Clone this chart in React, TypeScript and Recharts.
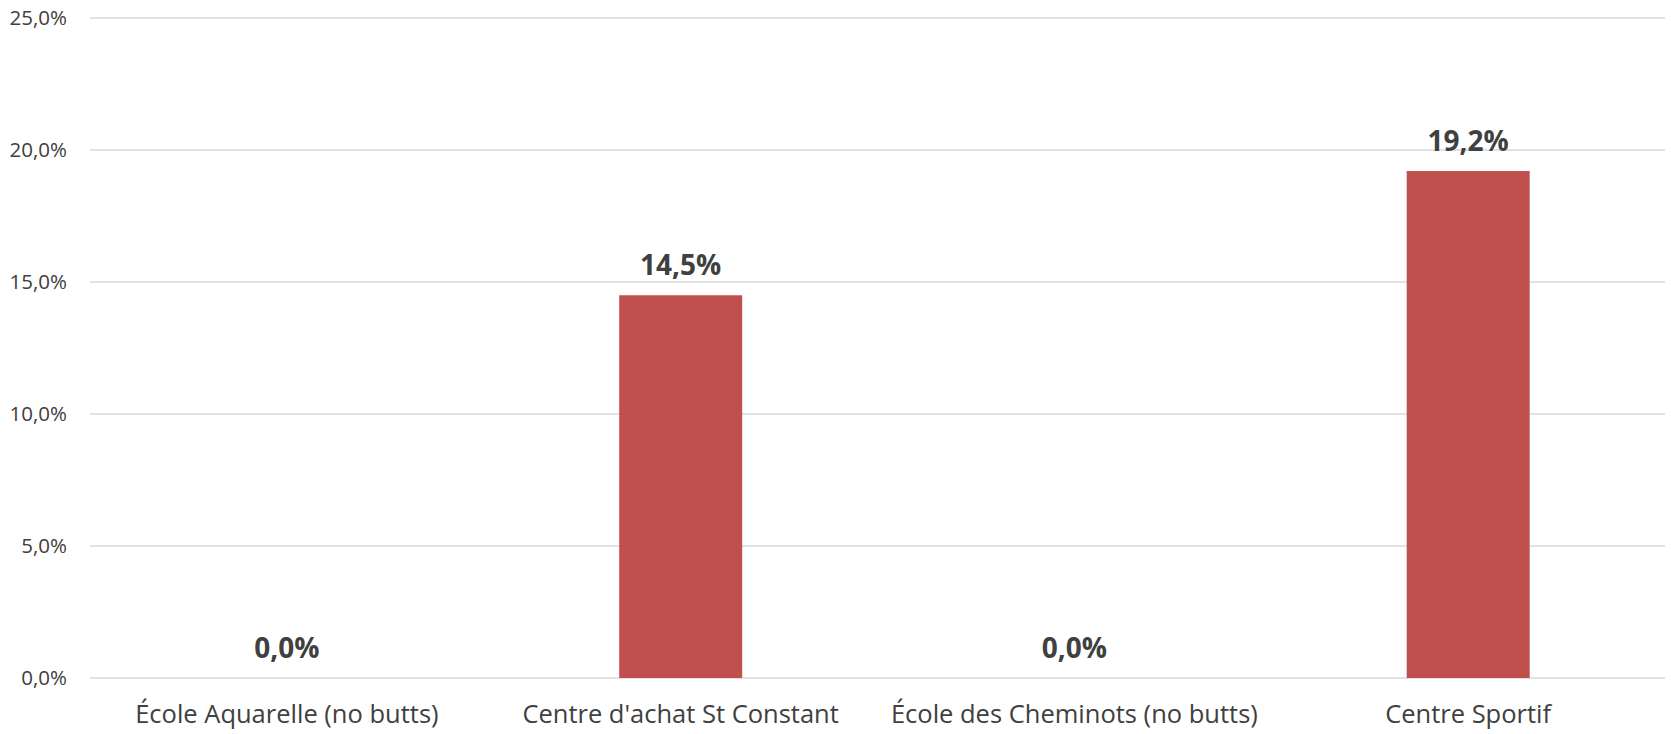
import React from 'react';
import { ComposedChart, Bar, Line, XAxis, YAxis, CartesianGrid, LabelList } from 'recharts';

const categories = [
  'École Aquarelle (no butts)',
  "Centre d'achat St Constant",
  'École des Cheminots (no butts)',
  'Centre Sportif',
];

const shares = [0, 14.5, 0, 19.2];

const yTicks = [0, 5, 10, 15, 20, 25];

const data = categories.map((name, i) => ({ name, value: shares[i] }));

const pct = (v: number) => `${Number(v).toFixed(1).replace('.', ',')}%`;

const FONT = '"Open Sans", sans-serif';

export default function App() {
  return (
    <div
      style={{
        position: 'absolute',
        left: 0,
        top: 0,
        width: 1671,
        height: 734,
        background: '#fff',
        fontFamily: FONT,
      }}
    >
      <ComposedChart
        width={1671}
        height={734}
        data={data}
        margin={{ top: 18, right: 6, left: 0, bottom: 0 }}
        barCategoryGap="34.4%"
      >
        <CartesianGrid vertical={false} stroke="#D9D9D9" strokeWidth={1.5} />
        <XAxis
          dataKey="name"
          height={56}
          axisLine={false}
          tickLine={false}
          tickSize={0}
          tickMargin={27}
          interval={0}
          tick={{ fill: '#404040', fontSize: 25.5, fontFamily: FONT }}
        />
        <YAxis
          width={90}
          domain={[0, 25]}
          ticks={yTicks}
          axisLine={false}
          tickLine={false}
          tickSize={0}
          tickMargin={23}
          tickFormatter={pct}
          tick={{ fill: '#404040', fontSize: 20.5, fontFamily: FONT }}
        />
        <Bar dataKey="value" fill="#C0504D" isAnimationActive={false} />
        {/* invisible line only carries the value labels, so 0% bars get one too */}
        <Line
          dataKey="value"
          stroke="none"
          dot={false}
          activeDot={false}
          isAnimationActive={false}
        >
          <LabelList
            dataKey="value"
            position="top"
            offset={20}
            formatter={pct}
            style={{
              fill: '#404040',
              fontSize: 28,
              fontWeight: 700,
              fontFamily: FONT,
            }}
          />
        </Line>
      </ComposedChart>
    </div>
  );
}
